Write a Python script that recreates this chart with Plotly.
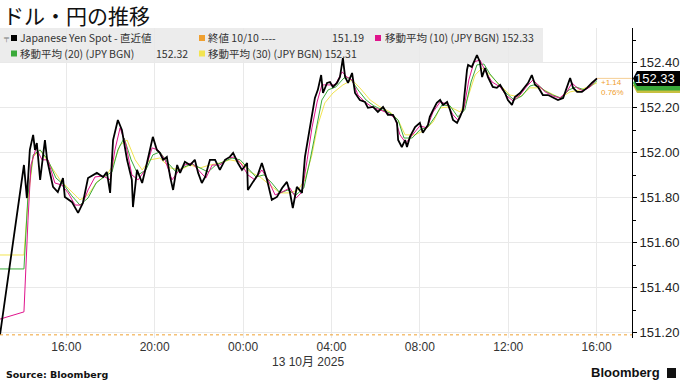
import pandas as pd
import plotly.graph_objects as go

# ---------------- data ----------------
spot_time = ["12 13:00","12 14:05","12 14:13","12 14:21","12 14:30","12 14:35","12 14:40","12 14:49","12 15:02","12 15:08",
             "12 15:24","12 15:37","12 15:51","12 15:56","12 16:15","12 16:32","12 16:45","12 16:59","12 17:23","12 17:40",
             "12 17:50","12 17:59","12 18:07","12 18:20","12 18:31","12 18:45","12 18:58","12 19:01","12 19:12","12 19:26",
             "12 19:39","12 19:55","12 20:06","12 20:14","12 20:23","12 20:33","12 20:42","12 20:50","12 21:01","12 21:09",
             "12 21:22","12 21:36","12 21:49","12 21:58","12 22:08","12 22:17","12 22:30","12 22:44","12 22:57","12 23:11",
             "12 23:24","12 23:33","12 23:46","12 23:57","13 00:11","13 00:13","13 00:27","13 00:40","13 00:51","13 01:05",
             "13 01:18","13 01:32","13 01:46","13 01:59","13 02:07","13 02:15","13 02:26","13 02:40","13 02:48","13 02:56",
             "13 03:07","13 03:15","13 03:23","13 03:32","13 03:37","13 03:48","13 03:56","13 04:04","13 04:15","13 04:23",
             "13 04:31","13 04:37","13 04:45","13 04:56","13 05:04","13 05:17","13 05:31","13 05:39","13 05:53","13 06:06",
             "13 06:20","13 06:33","13 06:47","13 06:58","13 07:01","13 07:11","13 07:20","13 07:25","13 07:33","13 07:47",
             "13 08:00","13 08:08","13 08:22","13 08:27","13 08:36","13 08:46","13 08:55","13 09:03","13 09:14","13 09:22",
             "13 09:30","13 09:41","13 09:49","13 09:57","13 10:08","13 10:11","13 10:21","13 10:35","13 10:43","13 10:49",
             "13 10:57","13 11:05","13 11:18","13 11:29","13 11:38","13 11:51","13 11:59","13 12:10","13 12:18","13 12:32",
             "13 12:45","13 12:54","13 13:04","13 13:13","13 13:21","13 13:34","13 13:48","13 14:01","13 14:15","13 14:29",
             "13 14:39","13 14:48","13 14:56","13 15:07","13 15:20","13 15:34","13 15:47","13 16:01"]
spot_vals = [151.19,151.945,151.798,152.012,152.079,152.012,152.043,151.879,152.056,151.968,
             151.848,151.825,151.887,151.803,151.781,151.732,151.776,151.887,151.91,151.892,
             151.914,151.821,152.056,152.145,152.101,151.968,151.879,151.758,151.923,151.865,
             151.954,152.07,152.012,151.999,151.968,151.981,151.892,151.834,151.945,151.91,
             151.959,151.945,151.968,151.91,151.865,151.892,151.968,151.968,151.923,151.968,
             151.981,151.999,151.954,151.923,151.954,151.834,151.87,151.901,151.954,151.879,
             151.79,151.803,151.843,151.87,151.825,151.754,151.848,151.821,151.981,152.056,
             152.159,152.243,152.279,152.345,152.265,152.31,152.314,152.292,152.31,152.336,
             152.42,152.336,152.31,152.354,152.265,152.234,152.225,152.199,152.203,152.181,
             152.203,152.168,152.168,152.132,152.056,152.025,152.056,152.025,152.07,152.114,
             152.132,152.088,152.123,152.159,152.19,152.221,152.234,152.212,152.225,152.19,
             152.145,152.132,152.159,152.19,152.368,152.39,152.381,152.434,152.403,152.336,
             152.376,152.336,152.292,152.288,152.301,152.265,152.234,152.212,152.247,152.265,
             152.292,152.31,152.345,152.301,152.292,152.256,152.256,152.247,152.234,152.243,
             152.288,152.332,152.288,152.27,152.27,152.288,152.31,152.33]

ma10_time = ["12 13:00","12 14:05","12 14:16","12 14:24","12 14:38","12 14:54","12 15:10","12 15:29","12 15:48","12 16:05",
             "12 16:24","12 16:43","12 16:59","12 17:18","12 17:40","12 17:59","12 18:12","12 18:26","12 18:42","12 18:58",
             "12 19:15","12 19:34","12 19:53","12 20:09","12 20:28","12 20:47","12 21:03","12 21:22","12 21:41","12 22:03",
             "12 22:19","12 22:36","12 22:57","12 23:19","12 23:38","12 23:57","13 00:13","13 00:32","13 00:51","13 01:08",
             "13 01:27","13 01:46","13 02:07","13 02:24","13 02:40","13 02:54","13 03:07","13 03:21","13 03:34","13 03:51",
             "13 04:10","13 04:29","13 04:42","13 04:56","13 05:12","13 05:31","13 05:50","13 06:12","13 06:33","13 06:52",
             "13 07:06","13 07:22","13 07:39","13 08:00","13 08:19","13 08:36","13 08:55","13 09:14","13 09:30","13 09:43",
             "13 10:00","13 10:13","13 10:27","13 10:43","13 10:59","13 11:16","13 11:38","13 11:56","13 12:13","13 12:32",
             "13 12:51","13 13:07","13 13:21","13 13:40","13 14:01","13 14:20","13 14:39","13 14:53","13 15:07","13 15:23",
             "13 15:42","13 16:01"]
ma10_vals = [151.26,151.292,151.70,151.945,152.021,151.968,151.968,151.865,151.856,151.821,
             151.767,151.767,151.834,151.892,151.896,151.879,152.012,152.11,152.034,151.901,
             151.879,151.923,152.021,152.012,151.968,151.879,151.914,151.945,151.954,151.914,
             151.887,151.945,151.945,151.976,151.981,151.945,151.901,151.879,151.923,151.879,
             151.812,151.825,151.843,151.798,151.825,151.968,152.11,152.225,152.301,152.301,
             152.301,152.359,152.336,152.323,152.256,152.225,152.203,152.19,152.176,152.154,
             152.079,152.043,152.079,152.119,152.11,152.181,152.225,152.216,152.168,152.145,
             152.199,152.323,152.403,152.412,152.359,152.314,152.292,152.252,152.23,152.256,
             152.296,152.323,152.301,152.27,152.252,152.243,152.27,152.31,152.288,152.274,
             152.292,152.33]

ma20_time = ["12 13:00","12 14:05","12 14:16","12 14:30","12 14:49","12 15:10","12 15:32","12 15:54","12 16:15","12 16:37",
             "12 16:59","12 17:21","12 17:42","12 18:04","12 18:20","12 18:37","12 18:56","12 19:15","12 19:36","12 19:55",
             "12 20:14","12 20:36","12 20:58","12 21:20","12 21:41","12 22:03","12 22:25","12 22:46","12 23:08","12 23:30",
             "12 23:52","13 00:13","13 00:35","13 00:57","13 01:18","13 01:40","13 02:02","13 02:24","13 02:45","13 03:02",
             "13 03:18","13 03:34","13 03:51","13 04:12","13 04:34","13 04:50","13 05:12","13 05:34","13 05:55","13 06:17",
             "13 06:39","13 07:01","13 07:17","13 07:39","13 08:00","13 08:22","13 08:41","13 09:00","13 09:22","13 09:43",
             "13 10:02","13 10:19","13 10:35","13 10:54","13 11:10","13 11:32","13 11:54","13 12:16","13 12:37","13 12:59",
             "13 13:18","13 13:40","13 14:01","13 14:23","13 14:45","13 15:04","13 15:26","13 15:45","13 16:01"]
ma20_vals = [151.483,151.483,151.812,151.99,152.012,151.968,151.887,151.856,151.808,151.767,
             151.798,151.865,151.892,151.914,152.012,152.065,151.968,151.901,151.923,151.99,
             152.003,151.954,151.914,151.936,151.95,151.932,151.914,151.945,151.959,151.976,
             151.968,151.932,151.892,151.901,151.865,151.821,151.834,151.812,151.843,151.968,
             152.11,152.234,152.279,152.292,152.332,152.332,152.279,152.234,152.208,152.19,
             152.176,152.145,152.065,152.065,152.101,152.114,152.159,152.212,152.208,152.159,
             152.19,152.314,152.39,152.394,152.35,152.305,152.265,152.234,152.252,152.296,
             152.305,152.274,152.256,152.243,152.279,152.292,152.279,152.296,152.32]

ma30_time = ["12 13:00","12 14:05","12 14:16","12 14:30","12 14:49","12 15:16","12 15:43","12 16:10","12 16:37","12 16:59",
             "12 17:23","12 17:50","12 18:07","12 18:26","12 18:45","12 19:07","12 19:26","12 19:47","12 20:14","12 20:42",
             "12 21:09","12 21:36","12 22:03","12 22:30","12 22:57","12 23:24","12 23:52","13 00:19","13 00:46","13 01:13",
             "13 01:40","13 02:07","13 02:29","13 02:48","13 03:07","13 03:23","13 03:42","13 04:04","13 04:31","13 04:56",
             "13 05:17","13 05:45","13 06:12","13 06:39","13 07:01","13 07:20","13 07:47","13 08:14","13 08:36","13 08:55",
             "13 09:22","13 09:49","13 10:08","13 10:30","13 10:49","13 11:10","13 11:38","13 12:05","13 12:32","13 12:59",
             "13 13:26","13 13:53","13 14:20","13 14:48","13 15:15","13 15:42","13 16:01"]
ma30_vals = [151.545,151.545,151.79,151.981,152.012,151.945,151.879,151.834,151.79,151.812,
             151.87,151.901,151.945,152.034,152.056,151.968,151.923,151.968,151.976,151.932,
             151.923,151.945,151.932,151.945,151.954,151.968,151.959,151.914,151.892,151.856,
             151.821,151.821,151.834,151.879,151.99,152.123,152.221,152.265,152.301,152.323,
             152.288,152.234,152.203,152.181,152.145,152.079,152.079,152.101,152.136,152.199,
             152.203,152.181,152.234,152.345,152.376,152.345,152.301,152.256,152.247,152.288,
             152.288,152.265,152.243,152.27,152.279,152.296,152.31]

prev_close = 151.19
y_ticks = [151.2, 151.4, 151.6, 151.8, 152.0, 152.2, 152.4]
x_ticks = ["12 16:00", "12 20:00", "13 00:00", "13 04:00", "13 08:00", "13 12:00", "13 16:00"]
x_range = ["12 13:00", "13 17:36"]
y_range = [151.176, 152.554]

def ts(lst):
    return pd.to_datetime(["2025-10-" + t for t in lst])

# ---------------- figure ----------------
W, H = 680, 382
L, R, T, B = 0, 48, 28, 44
PW, PH = W - L - R, H - T - B

def px(x):  # pixel -> paper x
    return (x - L) / PW

def py(y):  # pixel -> paper y
    return (H - B - y) / PH

C_SPOT = "#000000"
C_MA10 = "#e0148c"
C_MA20 = "#3aaa3a"
C_MA30 = "#f2e450"
C_CLOSE = "#f0a030"

fig = go.Figure()
fig.add_trace(go.Scatter(x=ts(ma30_time), y=ma30_vals, mode="lines",
                         line=dict(color=C_MA30, width=1), hoverinfo="skip"))
fig.add_trace(go.Scatter(x=ts(ma20_time), y=ma20_vals, mode="lines",
                         line=dict(color=C_MA20, width=1), hoverinfo="skip"))
fig.add_trace(go.Scatter(x=ts(ma10_time), y=ma10_vals, mode="lines",
                         line=dict(color=C_MA10, width=1), hoverinfo="skip"))
fig.add_trace(go.Scatter(x=ts(spot_time), y=spot_vals, mode="lines",
                         line=dict(color=C_SPOT, width=1.8), hoverinfo="skip"))

xr = ts(x_range)
fig.update_xaxes(type="date", range=[xr[0], xr[1]], tickvals=ts(x_ticks), tickformat="%H:%M",
                 showgrid=True, gridcolor="#e9e9e9", gridwidth=1, zeroline=False, showline=False,
                 ticks="", tickfont=dict(family="Liberation Sans, Arial", size=12, color="#333333"))
fig.update_yaxes(side="right", range=y_range, tickvals=y_ticks, tickformat=".2f",
                 showgrid=True, gridcolor="#e9e9e9", gridwidth=1, zeroline=False,
                 showline=True, linecolor="#000000", linewidth=1,
                 ticks="outside", ticklen=4, tickcolor="#000000",
                 minor=dict(dtick=0.1, ticks="outside", ticklen=3, tickcolor="#000000", showgrid=False),
                 tickfont=dict(family="Liberation Sans, Arial", size=13, color="#222222"))

shapes = []
annots = []

# previous close dotted line
shapes.append(dict(type="line", xref="paper", yref="y", x0=0, x1=1, y0=prev_close, y1=prev_close,
                   line=dict(color=C_CLOSE, width=1, dash="dot"), layer="above"))
# thin price line from last point to axis
last_t = ts(spot_time)[-1]
shapes.append(dict(type="line", xref="x", yref="y", x0=last_t, x1=xr[1], y0=spot_vals[-1], y1=spot_vals[-1],
                   line=dict(color="#f5cf95", width=1), layer="above"))

# legend box
shapes.append(dict(type="rect", xref="paper", yref="paper", x0=px(0), x1=px(543), y0=py(62), y1=py(28),
                   fillcolor="#ececec", line=dict(width=0), layer="below"))

LEG_FONT = dict(family="Noto Sans CJK JP, Noto Sans", size=10.5, color="#333333")
def leg_sq(x, yc, color):
    shapes.append(dict(type="rect", xref="paper", yref="paper", x0=px(x), x1=px(x + 6),
                       y0=py(yc + 3), y1=py(yc - 3), fillcolor=color, line=dict(width=0)))
def leg_txt(x, yc, text, anchor="left"):
    annots.append(dict(xref="paper", yref="paper", x=px(x), y=py(yc), text=text, showarrow=False,
                       xanchor=anchor, yanchor="middle", font=LEG_FONT, borderpad=0))

r1, r2 = 38, 53.5
annots.append(dict(xref="paper", yref="paper", x=px(2), y=py(r1), text="╤", showarrow=False,
                   xanchor="left", yanchor="middle", font=dict(size=7, color="#777777"), borderpad=0))
leg_sq(11, r1, C_SPOT); leg_txt(19, r1, "Japanese Yen Spot - 直近値")
leg_sq(199, r1, C_CLOSE); leg_txt(207, r1, "終値 10/10 ----"); leg_txt(365, r1, f"{prev_close:.2f}", "right")
leg_sq(375, r1, C_MA10); leg_txt(384, r1, f"移動平均 (10) (JPY BGN) {ma10_vals[-1]:.2f}")
leg_sq(11, r2, C_MA20); leg_txt(19, r2, "移動平均 (20) (JPY BGN)"); leg_txt(189, r2, f"{ma20_vals[-1]:.2f}", "right")
leg_sq(199, r2, C_MA30); leg_txt(207, r2, f"移動平均 (30) (JPY BGN) {ma30_vals[-1]:.2f}")

# right-side value tags (back to front)
half = 7.5 / PH * (y_range[1] - y_range[0])
def tag(val, fill, txtcolor=None):
    x0, x1, xt = px(637), px(680), px(633)
    path = (f"M {xt},{val} L {x0},{val + half} L {x1},{val + half} "
            f"L {x1},{val - half} L {x0},{val - half} Z")
    shapes.append(dict(type="path", xref="paper", yref="y", path=path, fillcolor=fill,
                       line=dict(width=0), layer="above"))
    if txtcolor:
        annots.append(dict(xref="paper", yref="y", x=px(677), y=val, text=f"{val:.2f}", showarrow=False,
                           xanchor="right", yanchor="middle",
                           font=dict(family="Liberation Sans, Arial", size=13, color=txtcolor)))
tag(ma30_vals[-1] - 0.012, "#c8c040")
tag(ma20_vals[-1] - 0.01, C_MA20)
tag(spot_vals[-1], "#000000", "#ffffff")

# change annotations
chg = spot_vals[-1] - prev_close
annots.append(dict(xref="paper", yref="paper", x=px(599), y=py(83), text=f"+{chg:.2f}", showarrow=False,
                   xanchor="left", yanchor="middle", font=dict(family="Liberation Sans, Arial", size=8, color=C_CLOSE)))
annots.append(dict(xref="paper", yref="paper", x=px(599), y=py(92), text="0.76%", showarrow=False,
                   xanchor="left", yanchor="middle", font=dict(family="Liberation Sans, Arial", size=8, color=C_CLOSE)))

# title
annots.append(dict(xref="paper", yref="paper", x=px(1), y=py(15), text="ドル・円の推移", showarrow=False,
                   xanchor="left", yanchor="middle",
                   font=dict(family="Noto Sans CJK JP", size=21, color="#111111")))
# date label
annots.append(dict(xref="paper", yref="paper", x=px(308), y=py(362), text="13 10月 2025", showarrow=False,
                   xanchor="center", yanchor="middle",
                   font=dict(family="Liberation Sans, Noto Sans CJK JP", size=12, color="#333333")))
# footer
annots.append(dict(xref="paper", yref="paper", x=px(4), y=py(374), text="<b>Source: Bloomberg</b>", showarrow=False,
                   xanchor="left", yanchor="middle",
                   font=dict(family="DejaVu Sans", size=9.5, color="#111111")))
annots.append(dict(xref="paper", yref="paper", x=px(662), y=py(373), text="<b>Bloomberg</b>", showarrow=False,
                   xanchor="right", yanchor="middle",
                   font=dict(family="Liberation Sans, Arial", size=13, color="#111111")))
shapes.append(dict(type="rect", xref="paper", yref="paper", x0=px(667), x1=px(676), y0=py(378), y1=py(368),
                   fillcolor="#111111", line=dict(width=0)))

fig.update_layout(width=W, height=H, margin=dict(l=L, r=R, t=T, b=B),
                  paper_bgcolor="#ffffff", plot_bgcolor="#ffffff",
                  showlegend=False, shapes=shapes, annotations=annots)

fig.write_html("out.html")
